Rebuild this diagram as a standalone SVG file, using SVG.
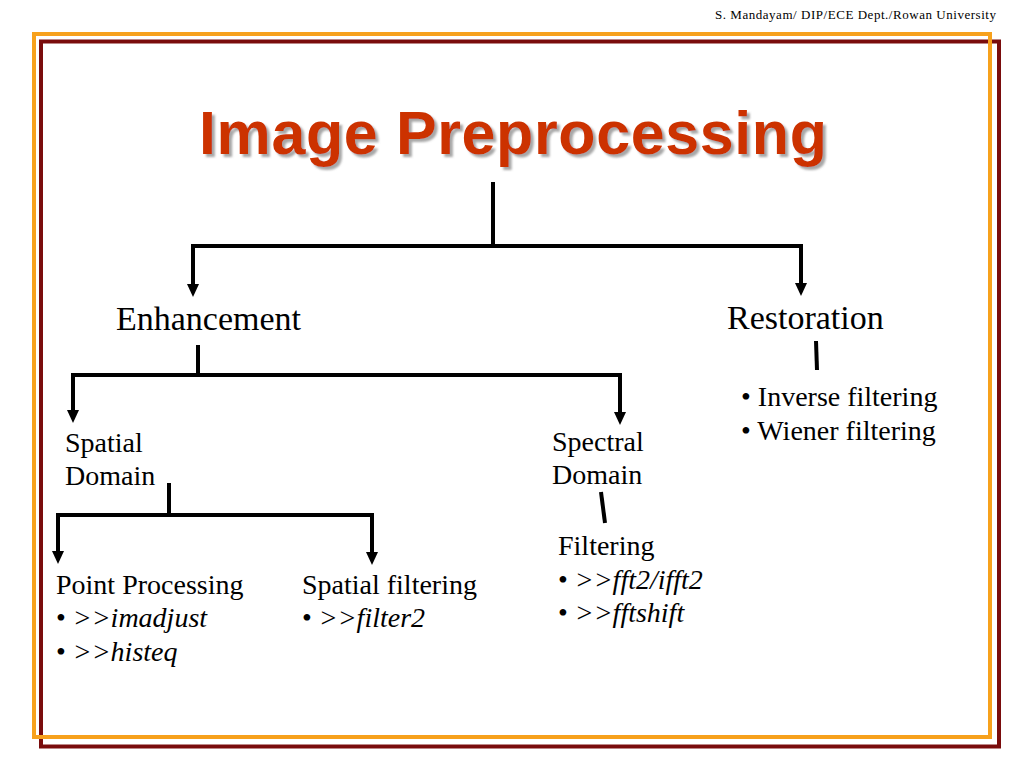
<svg xmlns="http://www.w3.org/2000/svg" width="1024" height="768" viewBox="0 0 1024 768">
<style>
.t{font-family:"Liberation Serif","Times New Roman",serif;font-size:28px;fill:#000}
.b{font-size:34px}
.i{font-style:italic}
.c{fill:none;stroke:#000;stroke-width:4}
.title{font-family:"Liberation Sans",Arial,sans-serif;font-weight:bold;font-size:61px}
</style>
<defs>
<marker id="ah" viewBox="0 0 13 12" refX="3" refY="6" markerWidth="13" markerHeight="12" markerUnits="userSpaceOnUse" orient="auto">
<path d="M0,0 L13,6 L0,12 z" fill="#000"/>
</marker>
<filter id="sh" x="-5%" y="-20%" width="110%" height="150%">
<feGaussianBlur in="SourceAlpha" stdDeviation="1"/>
<feOffset dx="3" dy="3" result="o"/>
<feFlood flood-color="#8a8a8a" flood-opacity="0.75"/>
<feComposite in2="o" operator="in"/>
<feMerge><feMergeNode/><feMergeNode in="SourceGraphic"/></feMerge>
</filter>
</defs>
<rect width="1024" height="768" fill="#fff"/>
<text x="996" y="18.5" text-anchor="end" font-family="Liberation Serif,'Times New Roman',serif" font-size="13" textLength="281" fill="#000">S. Mandayam/ DIP/ECE Dept./Rowan University</text>
<g id="frame">
<rect x="41" y="41.5" width="958" height="705" fill="none" stroke="#7A0C0C" stroke-width="4"/>
<rect x="34" y="34" width="956" height="703" fill="none" stroke="#F7A11C" stroke-width="4"/>
</g>
<g id="title">
<text class="title" x="199" y="154" textLength="628" fill="#CC3300" filter="url(#sh)">Image Preprocessing</text>
</g>
<g id="connectors">
<path class="c" d="M493,182 V248"/>
<path class="c" d="M193,246 H801"/>
<path class="c" d="M193,244 V287" marker-end="url(#ah)"/>
<path class="c" d="M801,244 V286" marker-end="url(#ah)"/>
<path class="c" d="M816,341 L817,370"/>
<path class="c" d="M198,345 V377"/>
<path class="c" d="M73,375 H620"/>
<path class="c" d="M73,373 V413" marker-end="url(#ah)"/>
<path class="c" d="M620,373 V415" marker-end="url(#ah)"/>
<path class="c" d="M169,483 V517"/>
<path class="c" d="M58,515 H372"/>
<path class="c" d="M58,513 V554" marker-end="url(#ah)"/>
<path class="c" d="M372,513 V555" marker-end="url(#ah)"/>
<path class="c" d="M601,492 L605,523"/>
</g>
<g id="enhancement"><text class="t b" x="116" y="330">Enhancement</text></g>
<g id="restoration">
<text class="t b" x="727" y="329">Restoration</text>
<text class="t" x="741" y="406">• Inverse filtering</text>
<text class="t" x="741" y="440">• Wiener filtering</text>
</g>
<g id="spatial-domain">
<text class="t" x="65" y="452">Spatial</text>
<text class="t" x="65" y="485">Domain</text>
</g>
<g id="spectral-domain">
<text class="t" x="552" y="451">Spectral</text>
<text class="t" x="552" y="484">Domain</text>
</g>
<g id="point-processing">
<text class="t" x="56" y="594">Point Processing</text>
<text class="t" x="56" y="627">• <tspan class="i">&gt;&gt;imadjust</tspan></text>
<text class="t" x="56" y="661">• <tspan class="i">&gt;&gt;histeq</tspan></text>
</g>
<g id="spatial-filtering">
<text class="t" x="302" y="594">Spatial filtering</text>
<text class="t" x="302" y="627">• <tspan class="i">&gt;&gt;filter2</tspan></text>
</g>
<g id="filtering">
<text class="t" x="558" y="555">Filtering</text>
<text class="t" x="558" y="589">• <tspan class="i">&gt;&gt;fft2/ifft2</tspan></text>
<text class="t" x="558" y="622">• <tspan class="i">&gt;&gt;fftshift</tspan></text>
</g>
</svg>
